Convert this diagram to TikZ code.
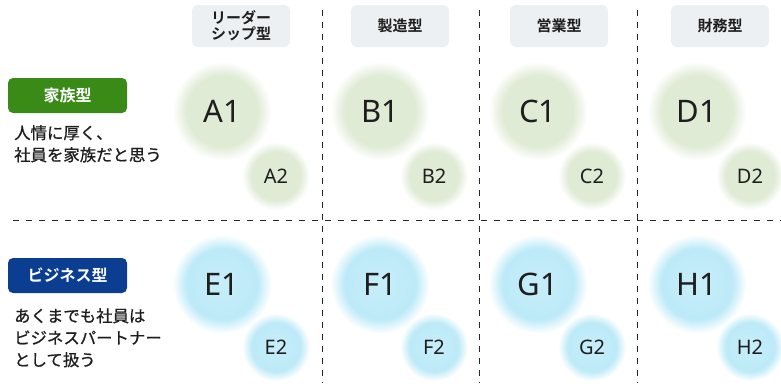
\documentclass[tikz,border=0pt]{standalone}
\usepackage{fontspec}
\setmainfont{Noto Sans}
\newfontfamily\jp[FakeBold=0.8]{Noto Sans CJK JP}
\newfontfamily\jpb{Noto Sans CJK JP Bold}
\usetikzlibrary{positioning}
\definecolor{gcore}{HTML}{E0EBD6}
\definecolor{bcore}{HTML}{BDEAF8}
\definecolor{famgreen}{HTML}{3A8A18}
\definecolor{bizblue}{HTML}{0B3D91}
\definecolor{hdrgray}{HTML}{EDF0F3}
\definecolor{txt}{HTML}{1E1E1E}
\pgfdeclareradialshading{glowg}{\pgfpoint{0bp}{0bp}}{color(0bp)=(gcore); color(18bp)=(gcore); color(25bp)=(white); color(50bp)=(white)}
\pgfdeclareradialshading{glowb}{\pgfpoint{0bp}{0bp}}{color(0bp)=(bcore!85); color(18bp)=(bcore); color(25bp)=(white); color(50bp)=(white)}
\tikzset{
  hdr/.style={fill=hdrgray, rounded corners=6pt, minimum width=98pt, minimum height=42pt, inner sep=0pt, align=center, font=\jpb\fontsize{15}{16}\selectfont, text=txt},
  tag/.style={rounded corners=5pt, minimum width=119pt, minimum height=35pt, inner sep=0pt, text=white, font=\jpb\fontsize{16}{16}\selectfont},
  desc/.style={anchor=north west, align=left, inner sep=0pt, text=txt, font=\jp\fontsize{16.4}{22}\selectfont},
  bigg/.style={circle, minimum size=99pt, inner sep=0pt, shading=glowg, text=txt, font=\fontsize{31}{31}\selectfont},
  smallg/.style={circle, minimum size=68pt, inner sep=0pt, shading=glowg, text=txt, font=\fontsize{20}{20}\selectfont},
  bigb/.style={circle, minimum size=99pt, inner sep=0pt, shading=glowb, text=txt, font=\fontsize{31}{31}\selectfont},
  smallb/.style={circle, minimum size=68pt, inner sep=0pt, shading=glowb, text=txt, font=\fontsize{20}{20}\selectfont},
  sep/.style={draw=black!85, line width=1pt, dash pattern=on 6pt off 7pt}
}
\begin{document}
\begin{tikzpicture}[x=1pt,y=-1pt]
\useasboundingbox (0,0) rectangle (781,383);
% separators
\coordinate (h0) at (13,220);
\coordinate (h1) at (781,220);
\draw[sep] (h0) -- (h1);
\coordinate (v1a) at (322,10); \coordinate (v1b) at (322,383);
\coordinate (v2a) at (479,10); \coordinate (v2b) at (479,383);
\coordinate (v3a) at (637,10); \coordinate (v3b) at (637,383);
\draw[sep, dash pattern=on 6pt off 6pt] (v1a) -- (v1b);
\draw[sep, dash pattern=on 6pt off 6pt] (v2a) -- (v2b);
\draw[sep, dash pattern=on 6pt off 6pt] (v3a) -- (v3b);
% headers
\node[hdr] (hL) at (241,26) {リーダー\\シップ型};
\node[hdr] (hM) at (400,26) {製造型};
\node[hdr] (hS) at (559,26) {営業型};
\node[hdr] (hF) at (720,26) {財務型};
% left labels
\node[tag, fill=famgreen] (fam) at (67.5,95.5) {家族型};
\node[desc] (famd) at (14,125) {人情に厚く、\\社員を家族だと思う};
\node[tag, fill=bizblue] (biz) at (67.5,275.5) {ビジネス型};
\node[desc] (bizd) at (14,308) {あくまでも社員は\\ビジネスパートナー\\として扱う};
% circles top row
\node[smallg] (A2) at (276,176) {A2};
\node[bigg] (A1) at (222,111) {A1};
\node[smallg] (B2) at (434,176) {B2};
\node[bigg] (B1) at (380,111) {B1};
\node[smallg] (C2) at (592,176) {C2};
\node[bigg] (C1) at (538,111) {C1};
\node[smallg] (D2) at (750,176) {D2};
\node[bigg] (D1) at (697,111) {D1};
% circles bottom row
\node[smallb] (E2) at (276,347) {E2};
\node[bigb] (E1) at (222,284) {E1};
\node[smallb] (F2) at (434,347) {F2};
\node[bigb] (F1) at (380,284) {F1};
\node[smallb] (G2) at (592,347) {G2};
\node[bigb] (G1) at (538,284) {G1};
\node[smallb] (H2) at (750,347) {H2};
\node[bigb] (H1) at (697,284) {H1};
\end{tikzpicture}
\end{document}
